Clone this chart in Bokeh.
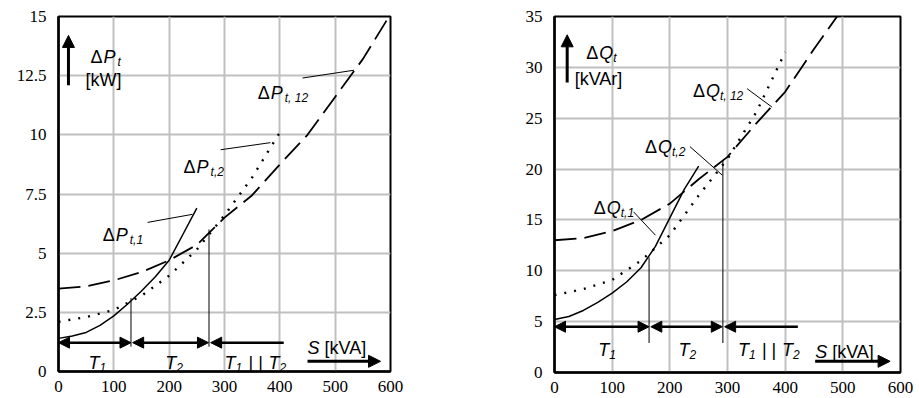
from bokeh.plotting import figure
from bokeh.layouts import row
from bokeh.models import (Range1d, FixedTicker, CustomJSTickFormatter, Label, Arrow,
                          NormalHead)
from bokeh.embed import file_html
from bokeh.resources import INLINE

# ---------------- data ----------------
x_ticks = [0, 100, 200, 300, 400, 500, 600]
x_tick_labels = ["0", "100", "200", "300", "400", "500", "600"]

p_ticks = [0, 2.5, 5, 7.5, 10, 12.5, 15]
p_tick_labels = ["0", "2.5", "5", "7.5", "10", "12.5", "15"]
q_ticks = [0, 5, 10, 15, 20, 25, 30, 35]
q_tick_labels = ["0", "5", "10", "15", "20", "25", "30", "35"]

# Active power losses [kW]
s_p1 = [0, 25, 50, 75, 100, 125, 150, 175, 200, 225, 250]
p1 = [1.4, 1.5, 1.65, 1.95, 2.35, 2.85, 3.4, 4.0, 4.7, 5.8, 6.9]
s_p2 = [0, 50, 100, 150, 200, 250, 300, 350, 400]
p2 = [2.1, 2.3, 2.6, 3.2, 4.05, 5.15, 6.6, 8.2, 10.1]
s_p12 = [0, 50, 100, 150, 200, 250, 300, 350, 400, 450, 500, 550, 600]
p12 = [3.5, 3.6, 3.85, 4.2, 4.7, 5.35, 6.5, 7.45, 8.75, 10.0, 11.6, 13.2, 15.1]
p_switch = [131, 272]          # S where the operating mode changes
p_switch_top = [3.1, 6.0]

# Reactive power losses [kVAr]
s_q1 = [0, 25, 50, 75, 100, 125, 150, 175, 200, 225, 250]
q1 = [5.2, 5.5, 6.1, 6.9, 7.8, 8.9, 10.3, 12.4, 15.2, 18.0, 20.3]
s_q2 = [0, 50, 100, 150, 200, 250, 300, 350, 400]
q2 = [7.6, 8.2, 9.1, 11.0, 13.5, 17.4, 21.0, 25.6, 31.5]
s_q12 = [0, 50, 100, 150, 200, 250, 300, 350, 400, 450, 500]
q12 = [13.0, 13.2, 13.9, 15.0, 16.6, 19.0, 21.2, 24.5, 27.6, 31.8, 35.8]
q_switch = [164, 292]
q_switch_top = [11.3, 20.9]

SANS = "Liberation Sans"
SERIF = "Liberation Serif"


def lab(p, x, y, text, dx=0, dy=0, size=18, style="normal", align="left"):
    p.add_layout(Label(x=x, y=y, x_offset=dx, y_offset=dy, text=text,
                       text_font=SANS, text_font_size=f"{size}px",
                       text_font_style=style, text_align=align,
                       text_baseline="alphabetic", text_color="black"))


def delta_label(p, x, y, letter, sub):
    lab(p, x, y, "\u0394")
    lab(p, x, y, letter, dx=13, style="italic")
    lab(p, x, y, sub, dx=27, dy=-5, size=12, style="italic")


def make_fig(width, height, ymax, yticks, ylabels, left, frame_w, top):
    p = figure(width=width, height=height, x_range=Range1d(0, 600),
               y_range=Range1d(0, ymax), output_backend="svg",
               toolbar_location=None, min_border_left=left,
               min_border_right=width - left - frame_w,
               min_border_top=top, min_border_bottom=height - top - 357,
               background_fill_color="white", border_fill_color="white")
    p.outline_line_color = "black"
    p.outline_line_width = 2
    p.xaxis.ticker = FixedTicker(ticks=x_ticks)
    p.xaxis.formatter = CustomJSTickFormatter(
        args=dict(t=x_ticks, l=x_tick_labels),
        code="const i = t.indexOf(tick); return i >= 0 ? l[i] : String(tick);")
    p.yaxis.ticker = FixedTicker(ticks=yticks)
    p.yaxis.formatter = CustomJSTickFormatter(
        args=dict(t=yticks, l=ylabels),
        code="const i = t.indexOf(tick); return i >= 0 ? l[i] : String(tick);")
    p.axis.axis_line_width = 2.5
    p.axis.axis_line_color = "black"
    p.axis.major_tick_line_color = None
    p.axis.minor_tick_line_color = None
    p.axis.major_label_text_font = SERIF
    p.axis.major_label_text_font_size = "17px"
    p.axis.major_label_text_color = "black"
    p.xaxis.major_label_standoff = 3
    p.yaxis.major_label_standoff = 6
    p.grid.grid_line_color = "#c0c0c0"
    p.grid.grid_line_width = 2
    return p


def add_common(p, ymax, switch, switch_top, y_arrow, y_bottom, y_text,
               t_pos, s_pos, s_arrow_y, yarrow_x, yarrow_y):
    # vertical separators
    p.segment(x0=switch, y0=[y_bottom, y_bottom], x1=switch, y1=switch_top,
              line_color="black", line_width=1)
    head = dict(size=11, fill_color="black", line_color="black")
    p.add_layout(Arrow(x_start=0, y_start=y_arrow, x_end=switch[0], y_end=y_arrow,
                       start=NormalHead(**head), end=NormalHead(**head),
                       line_width=2.5))
    p.add_layout(Arrow(x_start=switch[0] + 3, y_start=y_arrow, x_end=switch[1] - 1,
                       y_end=y_arrow, start=NormalHead(**head), end=NormalHead(**head),
                       line_width=2.5))
    p.add_layout(Arrow(x_start=t_pos[3], y_start=y_arrow, x_end=switch[1] + 3,
                       y_end=y_arrow, start=None, end=NormalHead(**head),
                       line_width=2.5))
    # T labels
    lab(p, t_pos[0], y_text, "T", style="italic")
    lab(p, t_pos[0], y_text, "1", dx=11, dy=-5, size=12, style="italic")
    lab(p, t_pos[1], y_text, "T", style="italic")
    lab(p, t_pos[1], y_text, "2", dx=11, dy=-5, size=12, style="italic")
    lab(p, t_pos[2], y_text, "T", style="italic")
    lab(p, t_pos[2], y_text, "1", dx=11, dy=-5, size=12, style="italic")
    lab(p, t_pos[2], y_text, "| |", dx=24)
    lab(p, t_pos[2], y_text, "T", dx=44, style="italic")
    lab(p, t_pos[2], y_text, "2", dx=55, dy=-5, size=12, style="italic")
    # S [kVA]
    lab(p, s_pos[0], s_pos[1], "S", style="italic")
    lab(p, s_pos[0], s_pos[1], "[kVA]", dx=17)
    p.add_layout(Arrow(x_start=s_pos[0], y_start=s_arrow_y, x_end=s_pos[2],
                       y_end=s_arrow_y, start=None,
                       end=NormalHead(size=12, fill_color="black", line_color="black"),
                       line_width=3))
    # y arrow
    p.add_layout(Arrow(x_start=yarrow_x, y_start=yarrow_y[0], x_end=yarrow_x,
                       y_end=yarrow_y[1], start=None,
                       end=NormalHead(size=12, fill_color="black", line_color="black"),
                       line_width=3))


# ---------------- left: active power ----------------
pl = make_fig(504, 394, 15, p_ticks, p_tick_labels, 58, 332, 15)
pl.line(s_p1, p1, line_color="black", line_width=1.5)
pl.line(s_p2, p2, line_color="black", line_width=2.4, line_dash="2 8")
pl.line(s_p12, p12, line_color="black", line_width=1.8, line_dash="22 8")
add_common(pl, 15, p_switch, p_switch_top, 1.22, 1.05, 0.38,
           [54, 193, 300, 407], [450, 1.0, 582], 0.43, 18, [12.1, 14.2])
delta_label(pl, 58, 13.3, "P", "t")
lab(pl, 49, 12.3, "[kW]")
delta_label(pl, 360, 11.76, "P", "t, 12")
delta_label(pl, 226, 8.66, "P", "t,2")
delta_label(pl, 80, 5.75, "P", "t,1")
pl.segment(x0=[441, 293, 161], y0=[12.4, 9.37, 6.3], x1=[534, 383, 242],
           y1=[12.73, 9.67, 6.64], line_color="black", line_width=1)

# ---------------- right: reactive power ----------------
pr = make_fig(410, 395, 35, q_ticks, q_tick_labels, 50, 346, 16)
pr.line(s_q1, q1, line_color="black", line_width=1.5)
pr.line(s_q2, q2, line_color="black", line_width=2.4, line_dash="2 8")
pr.line(s_q12, q12, line_color="black", line_width=1.8, line_dash="22 8")
add_common(pr, 35, q_switch, q_switch_top, 4.5, 2.9, 2.25,
           [76, 215, 318, 422], [452, 2.0, 582], 1.1, 22, [28.5, 33.2])
delta_label(pr, 55, 31.4, "Q", "t")
lab(pr, 35, 28.9, "[kVAr]")
delta_label(pr, 240, 27.7, "Q", "t, 12")
delta_label(pr, 157, 22.2, "Q", "t,2")
delta_label(pr, 68, 16.2, "Q", "t,1")
pr.segment(x0=[334, 235, 137], y0=[27.9, 22.2, 15.8], x1=[377, 291, 175],
           y1=[26.1, 19.4, 13.5], line_color="black", line_width=1)

layout = row(pl, pr)
open("out.html", "w").write(file_html(layout, INLINE))
